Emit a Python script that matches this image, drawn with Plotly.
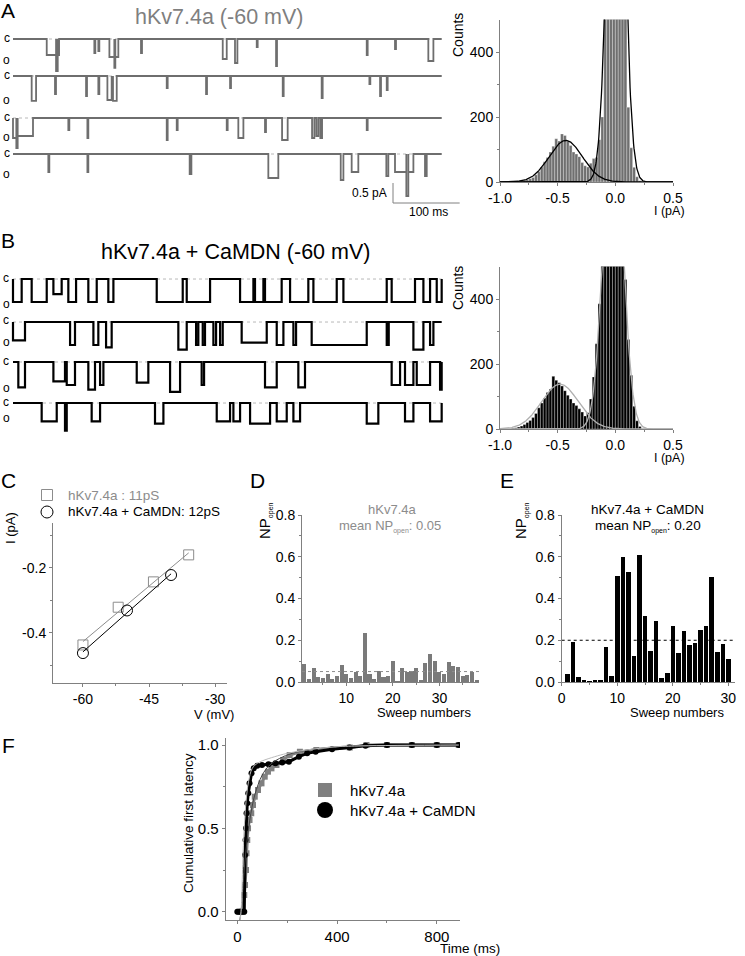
import numpy as np
import plotly.graph_objects as go

W, H = 745, 956
FONT = "Liberation Sans, Arial, Helvetica, sans-serif"
AXC = "#808080"

# ------------------------------------------------------------------ DATA
TRACE_MS = 643  # sweep duration shown (ms)

# Panel A: single-channel openings (start ms, end ms, amplitude pA)
a_sweep1 = [(50.6, 64.6, 0.40), (64.6, 67.1, 0.80), (67.1, 69.1, 0.40), (122, 123.5, 0.35),
            (128, 129.5, 0.30), (144.6, 152, 0.45), (152, 153.5, 0.72), (153.5, 158, 0.45),
            (192, 193.5, 0.35), (314.6, 320.6, 0.50), (333, 336.6, 0.60), (365.6, 367, 0.20),
            (394.6, 396, 0.68), (530.6, 532, 0.40), (573, 574.5, 0.25), (623, 630.6, 0.55)]
a_sweep2 = [(28, 34.6, 0.62), (63, 64.5, 0.45), (109.6, 111, 0.50), (128, 129.5, 0.45),
            (141.6, 148, 0.60), (148, 150, 0.40), (150, 155.6, 0.62), (230.6, 232, 0.30),
            (289.6, 291, 0.45), (325.6, 327, 0.30), (404.6, 406, 0.50), (463, 464.5, 0.55),
            (534.6, 536, 0.20), (550.6, 552, 0.50), (560.6, 562, 0.35)]
a_sweep3 = [(0, 5, 0.50), (5, 7, 0.75), (7, 30, 0.45), (83, 84.5, 0.30), (111.6, 113, 0.50),
            (230.6, 232, 0.55), (245.6, 247, 0.30), (320.6, 322, 0.30), (338, 345.6, 0.50),
            (378, 379.5, 0.35), (403.6, 412, 0.55), (448.6, 452, 0.50), (455, 458, 0.45),
            (461, 463.6, 0.50), (530.6, 532, 0.30)]
a_sweep4 = [(53, 54.5, 0.45), (111.6, 113, 0.45), (265, 267.6, 0.50), (383, 398, 0.60),
            (491.6, 495.6, 0.65), (508, 518, 0.45), (560, 563, 0.55), (573, 590, 0.45),
            (590, 593, 1.05), (593, 600.6, 0.45), (618, 620.6, 0.55)]

# Panel B: openings (start ms, end ms, amplitude pA)
b_sweep1 = [(0, 13, 0.5), (28, 50.6, 0.5), (60.6, 73, 0.33), (83, 94.6, 0.5), (113, 125.6, 0.5),
            (143, 150.6, 0.5), (215.6, 254.6, 0.5), (260.6, 295.6, 0.5), (340.6, 360.6, 0.5),
            (363, 375.6, 0.5), (378, 403, 0.5), (415.6, 443, 0.5), (450.6, 485.6, 0.5),
            (495.6, 560.6, 0.5), (568, 603, 0.5), (615.6, 625.6, 0.5), (635.6, 643, 0.5)]
b_sweep2 = [(0, 18, 0.4), (85.6, 93, 0.5), (120.6, 128, 0.5), (139.6, 148, 0.55), (248, 260.6, 0.6),
            (274.6, 278, 0.5), (284.6, 288, 0.5), (300.6, 304.6, 0.5), (310.6, 314.6, 0.5),
            (343, 380.6, 0.45), (395.6, 405.6, 0.5), (420.6, 424.6, 0.5), (448, 530.6, 0.5),
            (560.6, 563.6, 0.5), (600.6, 615.6, 0.6), (625.6, 630.6, 0.5)]
b_sweep3 = [(8, 18, 0.55), (60.6, 78, 0.42), (80.6, 93, 0.5), (113, 123, 0.6), (130.6, 135.6, 0.5),
            (185.6, 203, 0.45), (235.6, 250.6, 0.65), (283, 286.6, 0.5), (378, 395.6, 0.55),
            (428, 438, 0.55), (568, 580.6, 0.5), (588, 600.6, 0.5), (605.6, 625.6, 0.5),
            (640.6, 643, 0.6)]
b_sweep4 = [(43, 65.6, 0.4), (78, 80.6, 0.6), (118, 130.6, 0.4), (213, 225.6, 0.45),
            (305.6, 325.6, 0.4), (330.6, 340.6, 0.4), (355.6, 385.6, 0.45), (395.6, 410.6, 0.4),
            (420.6, 430.6, 0.4), (530.6, 548, 0.45), (588, 600.6, 0.4), (625.6, 643, 0.4)]

# Amplitude histograms (bin width 0.025 pA, first bin centre -0.8875 pA)
hist_bin0 = -0.8875
hist_binw = 0.025
hist_a_counts = [1, 2, 3, 4, 5, 7, 10, 14, 22, 32, 46, 62, 75, 92, 110, 133, 126, 148, 143, 125,
                 112, 92, 86, 78, 60, 50, 46, 58, 72, 75, 130, 200, 640, 970, 1270, 1450, 1450,
                 1270, 970, 640, 230, 105, 45, 16, 4]
hist_b_counts = [2, 4, 6, 9, 14, 20, 26, 35, 48, 65, 80, 95, 112, 122, 162, 150, 142, 132, 118, 104,
                 92, 80, 72, 62, 52, 40, 50, 92, 160, 262, 385, 560, 760, 900, 990, 990, 920, 800,
                 640, 460, 275, 165, 70, 25, 8]
# Gaussian fit parameters (mean, sd, amplitude)
fit_a = [(-0.43, 0.145, 128), (0.005, 0.068, 1480)]
fit_b = [(-0.48, 0.160, 138), (-0.02, 0.082, 1000)]

# Panel C: I-V
c_v_kv = [-60, -52, -44, -36]
c_i_kv = [-0.437, -0.321, -0.243, -0.160]
c_v_cam = [-60, -50, -40]
c_i_cam = [-0.462, -0.331, -0.222]

# Panel D / E: NPopen per sweep
d_np = [0.085, 0.013, 0.067, 0.022, 0.021, 0.037, 0.013, 0.030, 0.080, 0.037, 0.018, 0.050, 0.027,
        0.235, 0.038, 0.013, 0.053, 0.022, 0.027, 0.100, 0.006, 0.066, 0.046, 0.051, 0.067, 0.008,
        0.090, 0.133, 0.102, 0.050, 0.038, 0.096, 0.078, 0.072, 0.030, 0.034, 0.046, 0.010]
d_mean = 0.05
e_np = [0.037, 0.190, 0.024, 0.008, 0.003, 0.008, 0.008, 0.170, 0.027, 0.507, 0.600, 0.528, 0.125,
        0.608, 0.315, 0.149, 0.291, 0.019, 0.043, 0.269, 0.139, 0.245, 0.179, 0.187, 0.251, 0.267,
        0.504, 0.142, 0.184, 0.109]
e_mean = 0.20

# Panel F: cumulative first latency
f_kv_t = [8, 15, 22, 28, 31, 35, 37, 40, 43, 49, 56, 63, 70, 83, 97, 110, 123, 137, 157, 184, 210,
          251, 317, 451, 518, 600, 700, 800, 888]
f_kv_y = [0, 0, 0, 0.10, 0.16, 0.25, 0.35, 0.43, 0.50, 0.55, 0.59, 0.64, 0.69, 0.73, 0.77, 0.81,
          0.84, 0.86, 0.88, 0.91, 0.94, 0.96, 0.97, 0.985, 1.0, 1.0, 1.0, 1.0, 1.0]
f_cam_t = [0, 8, 15, 22, 28, 31, 33, 35, 37, 40, 44, 49, 57, 66, 80, 99, 125, 153, 180, 207, 247,
           280, 314, 380, 450, 514, 600, 700, 800, 888]
f_cam_y = [0, 0, 0, 0, 0, 0.34, 0.43, 0.50, 0.59, 0.65, 0.71, 0.77, 0.83, 0.86, 0.875, 0.88, 0.885,
           0.89, 0.895, 0.90, 0.93, 0.95, 0.96, 0.975, 0.985, 0.995, 1.0, 1.0, 1.0, 1.0]
fit_kv_t = [10, 15, 25, 35, 50, 70, 100, 130, 170, 220, 300, 400, 500, 888]
fit_kv_y = [-0.05, 0, 0.2, 0.37, 0.55, 0.70, 0.82, 0.88, 0.92, 0.95, 0.975, 0.99, 0.995, 1.0]
fit_cam_t = [11, 15, 25, 35, 45, 60, 80, 100, 150, 200, 300, 400, 500, 888]
fit_cam_y = [-0.05, 0, 0.42, 0.66, 0.78, 0.86, 0.89, 0.905, 0.93, 0.95, 0.975, 0.99, 0.995, 1.0]

# ------------------------------------------------------------------ LAYOUT HELPERS
def xd(a, b):
    return [a / W, b / W]


def yd(top, bottom):
    return [1 - bottom / H, 1 - top / H]


def px(x, y):
    return x / W, 1 - y / H


def axis(domain, rng, anchor, tickvals=None, ticktext=None, minor=None, size=14, visible=True):
    d = dict(domain=domain, range=rng, anchor=anchor, showgrid=False, zeroline=False,
             fixedrange=True, automargin=False)
    if not visible:
        d.update(visible=False)
        return d
    d.update(showline=True, linecolor=AXC, linewidth=1, ticks="outside", ticklen=3,
             tickwidth=1, tickcolor=AXC, tickfont=dict(size=size, color="black", family=FONT),
             tickmode="array", tickvals=tickvals, ticktext=ticktext)
    if minor:
        d["minor"] = dict(ticks="outside", ticklen=2, tickcolor=AXC, tickmode="array",
                          tickvals=minor, showgrid=False)
    return d


fig = go.Figure()

# ---- trace panels (A: axis 1, B: axis 3)
A_OFF = [0, -0.925, -1.975, -2.875]
B_OFF = [0, -0.935, -1.804, -2.696]


def add_steps(sweeps, offsets, xa, ya, color, width):
    for ev, off in zip(sweeps, offsets):
        xs, ys = [0.0], [off]
        for s, e, d in ev:
            xs += [s, e]
            ys += [off - d, off]
        xs.append(TRACE_MS)
        ys.append(off)
        fig.add_trace(go.Scatter(x=[0, TRACE_MS], y=[off, off], mode="lines",
                                 line=dict(color="#b8b8b8", width=1, dash="dot"),
                                 xaxis=xa, yaxis=ya, hoverinfo="skip", showlegend=False))
        fig.add_trace(go.Scatter(x=xs, y=ys, mode="lines",
                                 line=dict(color=color, width=width, shape="hv"),
                                 xaxis=xa, yaxis=ya, showlegend=False))


add_steps([a_sweep1, a_sweep2, a_sweep3, a_sweep4], A_OFF, "x", "y", "#6e6e6e", 1.8)
add_steps([b_sweep1, b_sweep2, b_sweep3, b_sweep4], B_OFF, "x3", "y3", "#000000", 2.2)

# scale bar (A): 0.5 pA / 100 ms
fig.add_trace(go.Scatter(x=[570, 570, 670], y=[-3.6, -4.1, -4.1], mode="lines",
                         line=dict(color="#808080", width=1), xaxis="x", yaxis="y",
                         showlegend=False))

# ---- histograms (A: axis 2, B: axis 4)
centers = [hist_bin0 + i * hist_binw for i in range(len(hist_a_counts))]
xfit = np.linspace(-1.0, 0.5, 400)


def gauss(p):
    m, s, a = p
    return a * np.exp(-((xfit - m) ** 2) / (2 * s * s))


fig.add_trace(go.Bar(x=centers, y=hist_a_counts, width=hist_binw,
                     marker=dict(color="#6f6f6f", line=dict(color="white", width=0.3)),
                     xaxis="x2", yaxis="y2", showlegend=False))
for p in fit_a:
    fig.add_trace(go.Scatter(x=xfit, y=gauss(p), mode="lines", line=dict(color="black", width=1.3),
                             xaxis="x2", yaxis="y2", showlegend=False))
fig.add_trace(go.Bar(x=centers, y=hist_b_counts, width=hist_binw,
                     marker=dict(color="#000000", line=dict(color="white", width=0.3)),
                     xaxis="x4", yaxis="y4", showlegend=False))
for p in fit_b:
    fig.add_trace(go.Scatter(x=xfit, y=gauss(p), mode="lines", line=dict(color="#b0b0b0", width=1.3),
                             xaxis="x4", yaxis="y4", showlegend=False))

# ---- C: I-V (axis 5)
for v, i, col, sym, sz in [(c_v_kv, c_i_kv, "#8c8c8c", "square-open", 10),
                           (c_v_cam, c_i_cam, "#000000", "circle-open", 11)]:
    k, b0 = np.polyfit(v, i, 1)
    fig.add_trace(go.Scatter(x=[v[0], v[-1]], y=[k * v[0] + b0, k * v[-1] + b0], mode="lines",
                             line=dict(color=col, width=1), xaxis="x5", yaxis="y5",
                             showlegend=False))
    fig.add_trace(go.Scatter(x=v, y=i, mode="markers",
                             marker=dict(symbol=sym, size=sz, color=col, line=dict(width=1, color=col)),
                             xaxis="x5", yaxis="y5", showlegend=False))

# ---- D (axis 6) and E (axis 7)
fig.add_trace(go.Bar(x=list(range(1, len(d_np) + 1)), y=d_np, width=0.88,
                     marker=dict(color="#7a7a7a", line=dict(width=0)),
                     xaxis="x6", yaxis="y6", showlegend=False))
fig.add_trace(go.Scatter(x=[0.5, 38.5], y=[d_mean, d_mean], mode="lines",
                         line=dict(color="#8c8c8c", width=1, dash="dot"),
                         xaxis="x6", yaxis="y6", showlegend=False))
fig.add_trace(go.Bar(x=list(range(1, len(e_np) + 1)), y=e_np, width=0.82,
                     marker=dict(color="#000000", line=dict(width=0)),
                     xaxis="x7", yaxis="y7", showlegend=False))
fig.add_trace(go.Scatter(x=[0, 31.2], y=[e_mean, e_mean], mode="lines",
                         line=dict(color="#000000", width=1, dash="dot"),
                         xaxis="x7", yaxis="y7", showlegend=False))

# ---- F (axis 8)
fig.add_trace(go.Scatter(x=f_kv_t, y=f_kv_y, mode="lines+markers",
                         line=dict(color="#808080", width=3),
                         marker=dict(symbol="square", size=6, color="#808080"),
                         xaxis="x8", yaxis="y8", showlegend=False))
fig.add_trace(go.Scatter(x=f_cam_t, y=f_cam_y, mode="lines+markers",
                         line=dict(color="#000000", width=3),
                         marker=dict(symbol="circle", size=6, color="#000000"),
                         xaxis="x8", yaxis="y8", showlegend=False))
fig.add_trace(go.Scatter(x=fit_kv_t, y=fit_kv_y, mode="lines",
                         line=dict(color="#444444", width=1, shape="spline"),
                         xaxis="x8", yaxis="y8", showlegend=False))
fig.add_trace(go.Scatter(x=fit_cam_t, y=fit_cam_y, mode="lines",
                         line=dict(color="#bbbbbb", width=1, shape="spline"),
                         xaxis="x8", yaxis="y8", showlegend=False))

# ---- overlay axis (9) in pixel coordinates for legend symbols
fig.add_trace(go.Scatter(x=[47], y=[495], mode="markers",
                         marker=dict(symbol="square-open", size=11, color="#8c8c8c", line=dict(width=1)),
                         xaxis="x9", yaxis="y9", showlegend=False))
fig.add_trace(go.Scatter(x=[47], y=[512], mode="markers",
                         marker=dict(symbol="circle-open", size=12, color="#000000", line=dict(width=1)),
                         xaxis="x9", yaxis="y9", showlegend=False))
fig.add_trace(go.Scatter(x=[325], y=[790], mode="markers",
                         marker=dict(symbol="square", size=14, color="#808080"),
                         xaxis="x9", yaxis="y9", showlegend=False))
fig.add_trace(go.Scatter(x=[325], y=[810], mode="markers",
                         marker=dict(symbol="circle", size=16, color="#000000"),
                         xaxis="x9", yaxis="y9", showlegend=False))

# ------------------------------------------------------------------ AXES
hx_vals = [-1.0, -0.5, 0.0, 0.5]
hx_text = ["-1.0", "-0.5", "0.0", "0.5"]
np_vals = [0, 0.2, 0.4, 0.6, 0.8]
np_text = ["0.0", "0.2", "0.4", "0.6", "0.8"]

lay = dict(
    xaxis=axis(xd(0, 470), [-19.5, 685.5], "y", visible=False),
    yaxis=axis(yd(28, 215), [-4.4, 0.275], "x", visible=False),
    xaxis2=axis(xd(500, 673), [-1.0, 0.5], "y2", hx_vals, hx_text, [-0.75, -0.25, 0.25]),
    yaxis2=axis(yd(19.5, 182), [0, 500], "x2", [0, 200, 400], ["0", "200", "400"], [100, 300]),
    xaxis3=axis(xd(0, 470), [-19.5, 685.5], "y3", visible=False),
    yaxis3=axis(yd(262, 440), [-3.5, 0.37], "x3", visible=False),
    xaxis4=axis(xd(500, 673), [-1.0, 0.5], "y4", hx_vals, hx_text, [-0.75, -0.25, 0.25]),
    yaxis4=axis(yd(266.5, 429), [0, 500], "x4", [0, 200, 400], ["0", "200", "400"], [100, 300]),
    xaxis5=axis(xd(53, 227), [-66.8, -27.3], "y5", [-60, -45, -30], ["-60", "-45", "-30"],
                [-52.5, -37.5]),
    yaxis5=axis(yd(523, 683), [-0.554, -0.062], "x5", [-0.2, -0.4], ["-0.2", "-0.4"],
                [-0.1, -0.3, -0.5]),
    xaxis6=axis(xd(302, 479), [0.5, 38.5], "y6", [10, 20, 30], ["10", "20", "30"], [5, 15, 25, 35]),
    yaxis6=axis(yd(515, 682), [0, 0.8], "x6", np_vals, np_text, [0.1, 0.3, 0.5, 0.7]),
    xaxis7=axis(xd(561.7, 735), [0, 31.2], "y7", [0, 10, 20, 30], ["0", "10", "20", "30"],
                [5, 15, 25]),
    yaxis7=axis(yd(515, 682), [0, 0.8], "x7", np_vals, np_text, [0.1, 0.3, 0.5, 0.7]),
    xaxis8=axis(xd(225.7, 460), [-46.5, 893], "y8", [0, 400, 800], ["0", "400", "800"],
                [200, 600], size=15),
    yaxis8=axis(yd(737.7, 920), [-0.05, 1.044], "x8", [0, 0.5, 1.0], ["0.0", "0.5", "1.0"],
                [0.25, 0.75], size=15),
    xaxis9=axis([0, 1], [0, W], "y9", visible=False),
    yaxis9=axis([0, 1], [H, 0], "x9", visible=False),
)

# ------------------------------------------------------------------ TEXT
anns = []


def ann(text, x, y, size=13, color="black", xanchor="center", angle=0):
    ax, ay = px(x, y)
    anns.append(dict(text=text, x=ax, y=ay, xref="paper", yref="paper", showarrow=False,
                     xanchor=xanchor, yanchor="middle", textangle=angle,
                     font=dict(size=size, color=color, family=FONT)))


def sub_open(color):
    return "<sub><span style='font-size:7px;fill:%s'>open</span></sub>" % color


for letter, x, y in [("A", 8, 11), ("B", 8, 241), ("C", 8, 481), ("D", 257, 480),
                     ("E", 507, 480), ("F", 8, 745)]:
    ann(letter, x, y, size=21)

ann("hKv7.4a (-60 mV)", 219, 17, size=21.5, color="#7f7f7f")
ann("hKv7.4a + CaMDN (-60 mV)", 235, 252, size=21.5)

for cy, oy in [(39, 60), (76, 100), (118, 137), (154, 174)]:
    ann("c", 7, cy - 1, size=12)
    ann("o", 7, oy, size=12)
for cy, oy in [(279, 304), (321, 342), (362, 388), (403, 418)]:
    ann("c", 6, cy - 1, size=12)
    ann("o", 6, oy, size=12)

ann("0.5 pA", 389, 193, size=12, xanchor="right")
ann("100 ms", 428, 212, size=12)

ann("Counts", 458, 35, size=14, angle=-90)
ann("Counts", 458, 288, size=14, angle=-90)
ann("I (pA)", 669, 211, size=12.5)
ann("I (pA)", 669, 458, size=12.5)

ann("hKv7.4a : 11pS", 66, 495, size=13.5, color="#8c8c8c", xanchor="left")
ann("hKv7.4a + CaMDN: 12pS", 66, 512, size=13.5, xanchor="left")
ann("I (pA)", 10, 528, size=13, angle=-90)
ann("V (mV)", 214, 714, size=13)

ann("NP" + sub_open("#000000"), 265, 521, size=15, angle=-90)
ann("hKv7.4a", 392, 509, size=13, color="#8c8c8c")
ann("mean NP" + sub_open("#8c8c8c") + ": 0.05", 390, 526, size=13, color="#8c8c8c")
ann("Sweep numbers", 424, 712, size=13)

ann("NP" + sub_open("#000000"), 521, 521, size=15, angle=-90)
ann("hKv7.4a + CaMDN", 647, 509, size=13.5)
ann("mean NP" + sub_open("#000000") + ": 0.20", 648, 526, size=13.5)
ann("Sweep numbers", 677, 712, size=13)

ann("Cumulative first latency", 188, 823, size=13.5, angle=-90)
ann("Time (ms)", 470, 948, size=13.5)
ann("hKv7.4a", 348, 790, size=15, xanchor="left")
ann("hKv7.4a + CaMDN", 348, 810, size=15, xanchor="left")

fig.update_layout(
    template="none",
    width=W, height=H, autosize=False,
    margin=dict(l=0, r=0, t=0, b=0, pad=0),
    paper_bgcolor="white", plot_bgcolor="rgba(0,0,0,0)",
    font=dict(family=FONT, color="black"),
    showlegend=False, bargap=0, annotations=anns, **lay,
)

fig.write_html("out.html", config={"displayModeBar": False, "staticPlot": True},
               post_script="document.body.style.margin='0px';")
